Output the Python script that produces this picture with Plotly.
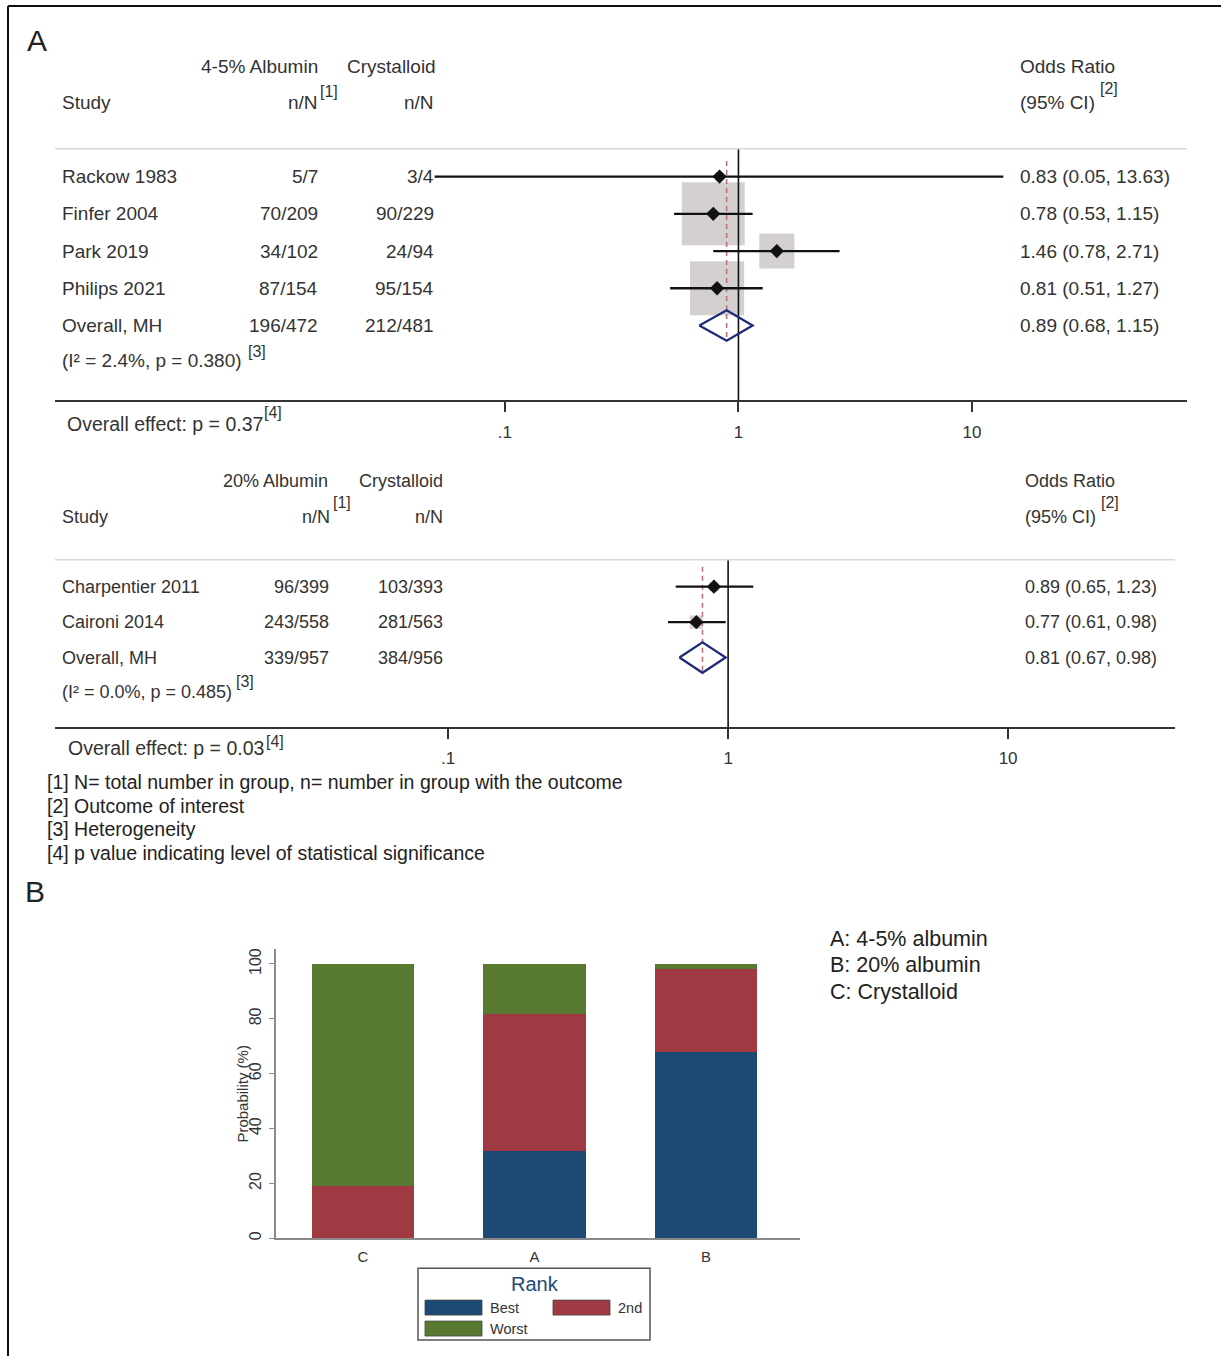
import plotly.graph_objects as go

# ---------------------------------------------------------------- data
# Panel A, upper: 4-5% albumin vs crystalloid
studies_1 = ["Rackow 1983", "Finfer 2004", "Park 2019", "Philips 2021"]
alb_1 = ["5/7", "70/209", "34/102", "87/154"]
cry_1 = ["3/4", "90/229", "24/94", "95/154"]
or_1 = [0.83, 0.78, 1.46, 0.81]
lo_1 = [0.05, 0.53, 0.78, 0.51]
hi_1 = [13.63, 1.15, 2.71, 1.27]
weight_1 = [0.8, 48.5, 15.0, 35.7]
pooled_1 = {"label": "Overall, MH", "alb": "196/472", "cry": "212/481",
            "or": 0.89, "lo": 0.68, "hi": 1.15}
het_1 = "(I² = 2.4%, p = 0.380)"
effect_1 = "Overall effect: p = 0.37"

# Panel A, lower: 20% albumin vs crystalloid
studies_2 = ["Charpentier 2011", "Caironi 2014"]
alb_2 = ["96/399", "243/558"]
cry_2 = ["103/393", "281/563"]
or_2 = [0.89, 0.77]
lo_2 = [0.65, 0.61]
hi_2 = [1.23, 0.98]
weight_2 = [33.0, 67.0]
pooled_2 = {"label": "Overall, MH", "alb": "339/957", "cry": "384/956",
            "or": 0.81, "lo": 0.67, "hi": 0.98}
het_2 = "(I² = 0.0%, p = 0.485)"
effect_2 = "Overall effect: p = 0.03"

or_ticks = [0.1, 1, 10]
or_ticktext = [".1", "1", "10"]

footnotes = [
    "[1] N= total number in group, n= number in group with the outcome",
    "[2] Outcome of interest",
    "[3] Heterogeneity",
    "[4] p value indicating level of statistical significance",
]

# Panel B: rank probabilities (%)
treatments = ["C", "A", "B"]
rank_labels = ["Best", "2nd", "Worst"]
p_best = [0.0, 31.7, 68.0]
p_second = [19.2, 49.9, 30.3]
p_worst = [80.8, 18.4, 1.7]
treatment_key = ["A: 4-5% albumin", "B: 20% albumin", "C: Crystalloid"]
y_ticks = [0, 20, 40, 60, 80, 100]

# ---------------------------------------------------------------- styling
W, H = 1221, 1358
FONT = "Liberation Sans, Arial, sans-serif"
TXT = "#333333"
BOX_GREY = "#c3bcbc"
NAVY_DIAMOND = "#1f2a7a"
RED_DASH = "#b8737c"
RANK_COLORS = ["#1d4a74", "#a03a42", "#587a30"]
PAD = 2  # annotation inner padding compensation


def fx(p):
    return p / W


def fy(p):
    return 1 - p / H


fig = go.Figure()
annotations = []
shapes = []


def text(x, y, s, size=19, anchor="left", color=TXT, xref="paper", yref="paper", angle=0):
    if anchor == "left":
        x -= PAD
    elif anchor == "right":
        x += PAD
    annotations.append(dict(
        x=fx(x) if xref == "paper" else x,
        y=fy(y) if yref == "paper" else y,
        xref=xref, yref=yref, text=s, showarrow=False,
        xanchor=anchor, yanchor="middle", textangle=angle,
        font=dict(family=FONT, size=size, color=color)))


def forest(xa, ya, names, alb, cry, ors, los, his, weights, pooled,
           box_scale, y_span, dash_span, diamond_h, cols, fsize):
    """Draw one forest panel on axes (xa, ya); rows are indexed 0..n."""
    n = len(names)
    rows = list(range(n))
    axes = dict(xaxis=xa, yaxis=ya, showlegend=False, hoverinfo="skip")
    # weight boxes
    fig.add_trace(go.Scatter(
        x=ors, y=rows, mode="markers",
        marker=dict(symbol="square", size=[box_scale * w ** 0.5 for w in weights],
                    color=BOX_GREY, line=dict(width=0)), **axes))
    # line of no effect
    fig.add_trace(go.Scatter(x=[1, 1], y=list(y_span), mode="lines",
                             line=dict(color="#111111", width=1.6), **axes))
    # pooled estimate reference
    fig.add_trace(go.Scatter(x=[pooled["or"]] * 2, y=list(dash_span), mode="lines",
                             line=dict(color=RED_DASH, width=1.6, dash="5px,4px"), **axes))
    # confidence intervals
    cx, cy = [], []
    for i in rows:
        cx += [los[i], his[i], None]
        cy += [i, i, None]
    fig.add_trace(go.Scatter(x=cx, y=cy, mode="lines",
                             line=dict(color="#111111", width=2.3), **axes))
    # point estimates
    fig.add_trace(go.Scatter(x=ors, y=rows, mode="markers",
                             marker=dict(symbol="diamond", size=11, color="#111111"), **axes))
    # pooled diamond
    r = n
    fig.add_trace(go.Scatter(
        x=[pooled["lo"], pooled["or"], pooled["hi"], pooled["or"], pooled["lo"]],
        y=[r, r - diamond_h, r, r + diamond_h, r], mode="lines",
        line=dict(color=NAVY_DIAMOND, width=2.3), **axes))
    # table columns
    yref = ya.replace("axis", "")
    name_x, alb_x, cry_x, or_x = cols
    labels = names + [pooled["label"]]
    albs = alb + [pooled["alb"]]
    crys = cry + [pooled["cry"]]
    ests = [f"{o:.2f} ({lo:.2f}, {hi:.2f})" for o, lo, hi in
            zip(ors + [pooled["or"]], los + [pooled["lo"]], his + [pooled["hi"]])]
    for i in range(n + 1):
        text(name_x, i, labels[i], fsize, "left", yref=yref)
        text(alb_x, i, albs[i], fsize, "right", yref=yref)
        text(cry_x, i, crys[i], fsize, "right", yref=yref)
        text(or_x, i, ests[i], fsize, "left", yref=yref)


# ---------------------------------------------------------------- upper forest
forest("x", "y", studies_1, alb_1, cry_1, or_1, lo_1, hi_1, weight_1, pooled_1,
       box_scale=9.05, y_span=(-0.75, 6.0), dash_span=(-0.42, 4.35), diamond_h=0.41,
       cols=(62, 318, 434, 1020), fsize=19)
# ---------------------------------------------------------------- lower forest
forest("x2", "y2", studies_2, alb_2, cry_2, or_2, lo_2, hi_2, weight_2, pooled_2,
       box_scale=1.6, y_span=(-0.76, 3.97), dash_span=(-0.56, 2.38), diamond_h=0.43,
       cols=(62, 329, 443, 1025), fsize=18)

# ---------------------------------------------------------------- rank bars
for vals, lab, col in zip([p_best, p_second, p_worst], rank_labels, RANK_COLORS):
    fig.add_trace(go.Bar(x=treatments, y=vals, name=lab, width=0.6,
                         marker=dict(color=col, line=dict(width=0)),
                         xaxis="x3", yaxis="y3", showlegend=False, hoverinfo="skip"))

# ---------------------------------------------------------------- axes
or_axis = dict(type="log", showline=True, linecolor="#333333", linewidth=2,
               ticks="outside", ticklen=10, tickwidth=2, tickcolor="#333333",
               tickvals=or_ticks, ticktext=or_ticktext, showgrid=False, zeroline=False,
               tickfont=dict(family=FONT, size=17, color=TXT), fixedrange=True)
hidden_y = dict(visible=False, showgrid=False, zeroline=False, fixedrange=True)

fig.update_layout(
    xaxis=dict(or_axis, domain=[fx(55), fx(1187)], range=[-2.927, 1.921], anchor="y",
               ticklabelstandoff=5),
    yaxis=dict(hidden_y, domain=[fy(400), fy(148)], range=[6.005, -0.7507], anchor="x"),
    xaxis2=dict(or_axis, domain=[fx(55), fx(1175)], range=[-2.404, 1.596], anchor="y2",
                ticklabelstandoff=4),
    yaxis2=dict(hidden_y, domain=[fy(728), fy(560)], range=[3.97, -0.76], anchor="x2"),
    xaxis3=dict(domain=[fx(276), fx(800)], range=[-0.507, 2.548], anchor="y3",
                showline=True, linecolor="#8a8a8a", linewidth=1.5, ticks="",
                showgrid=False, zeroline=False, ticklabelstandoff=4,
                tickfont=dict(family=FONT, size=15, color=TXT), fixedrange=True),
    yaxis3=dict(domain=[fy(1240), fy(950)], range=[0, 105.5], anchor="x3",
                showline=True, linecolor="#8a8a8a", linewidth=1.5, ticks="outside",
                ticklen=5, tickcolor="#8a8a8a", tickvals=y_ticks, tickangle=-90,
                showgrid=False, zeroline=False, ticklabelstandoff=2,
                tickfont=dict(family=FONT, size=16, color=TXT), fixedrange=True),
    barmode="stack",
)

# ---------------------------------------------------------------- rules and frame
shapes.append(dict(type="line", xref="paper", yref="paper", x0=fx(55), x1=fx(1187),
                   y0=fy(148), y1=fy(148), line=dict(color="#d9d9d9", width=1.5)))
shapes.append(dict(type="line", xref="paper", yref="paper", x0=fx(55), x1=fx(1175),
                   y0=fy(560), y1=fy(560), line=dict(color="#d9d9d9", width=1.5)))
shapes.append(dict(type="line", xref="paper", yref="paper", x0=fx(8), x1=fx(8),
                   y0=fy(5), y1=fy(1358), line=dict(color="#111111", width=2)))
shapes.append(dict(type="line", xref="paper", yref="paper", x0=fx(8), x1=fx(1221),
                   y0=fy(5), y1=fy(5), line=dict(color="#111111", width=2)))

# ---------------------------------------------------------------- headings
text(37, 40, "A", 30, "center", "#222222")
text(259, 66, "4-5% Albumin", 19, "center")
text(391, 66, "Crystalloid", 19, "center")
text(62, 102, "Study", 19)
text(318, 102, "n/N", 19, "right")
text(320, 91, "[1]", 16)
text(434, 102, "n/N", 19, "right")
text(1020, 66, "Odds Ratio", 19)
text(1020, 102, "(95% CI)", 19)
text(1100, 88, "[2]", 16)
text(62, 360, het_1, 19)
text(248, 351, "[3]", 16)
text(67, 424, effect_1, 19.5)
text(264, 412, "[4]", 16)

text(275, 481, "20% Albumin", 18, "center")
text(401, 481, "Crystalloid", 18, "center")
text(62, 517, "Study", 18)
text(330, 517, "n/N", 18, "right")
text(333, 503, "[1]", 16)
text(443, 517, "n/N", 18, "right")
text(1025, 481, "Odds Ratio", 18)
text(1025, 517, "(95% CI)", 18)
text(1101, 503, "[2]", 16)
text(62, 693, het_2, 18)
text(236, 682, "[3]", 16)
text(68, 749, effect_2, 19.5)
text(266, 742, "[4]", 16)

for k, note in enumerate(footnotes):
    text(47, 783 + k * 23.5, note, 19.5, color="#222222")

# ---------------------------------------------------------------- panel B labels
text(35, 892, "B", 30, "center", "#222222")
for k, key in enumerate(treatment_key):
    text(830, 940 + k * 26.5, key, 21.5, color="#222222")
text(243, 1095, "Probability (%)", 15, "center", angle=-90)

# legend box
shapes.append(dict(type="rect", xref="paper", yref="paper", x0=fx(418), x1=fx(650),
                   y0=fy(1342), y1=fy(1270), line=dict(color="#555555", width=1.5)))
text(535, 1286, "Rank", 20, "center", "#1d4a74")
swatches = [(425, 1302, 490), (553, 1302, 618), (425, 1323, 490)]
for (sx, sy, lx), lab, col in zip(swatches, rank_labels, RANK_COLORS):
    shapes.append(dict(type="rect", xref="paper", yref="paper", x0=fx(sx), x1=fx(sx + 57),
                       y0=fy(sy + 15), y1=fy(sy), fillcolor=col,
                       line=dict(color="#444444", width=0.8)))
    text(lx, sy + 7.5, lab, 14.5)

fig.update_layout(
    width=W, height=H, margin=dict(l=0, r=0, t=0, b=0),
    paper_bgcolor="white", plot_bgcolor="white",
    annotations=annotations, shapes=shapes, showlegend=False,
    font=dict(family=FONT, color=TXT),
)

fig.write_html("out.html")
